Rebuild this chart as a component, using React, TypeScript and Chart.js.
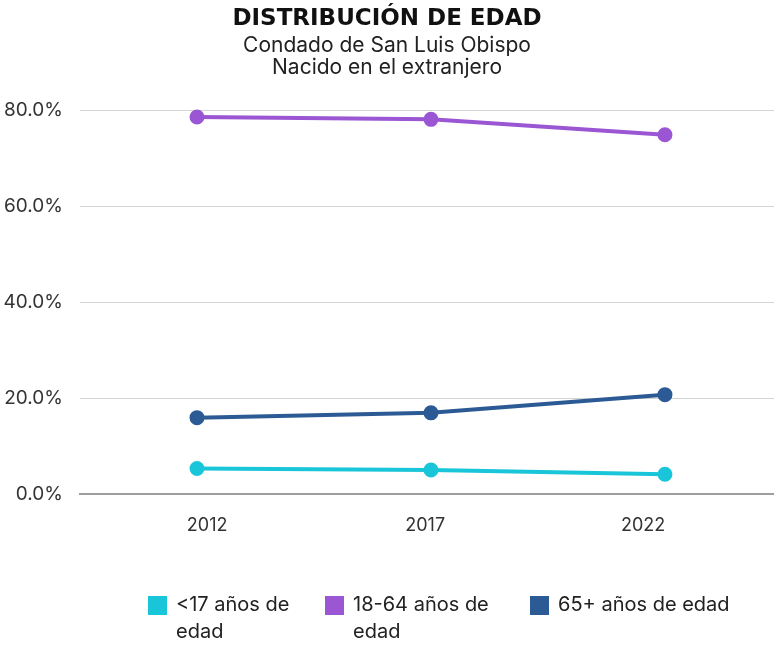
import React, { useEffect, useRef } from "react";
import { Chart, registerables } from "chart.js";

Chart.register(...registerables);

const years = ["2012", "2017", "2022"];
const under17 = [5.4, 5.1, 4.2];
const age18to64 = [78.7, 78.2, 75.0];
const over65 = [16.0, 17.0, 20.8];

const seriesNames = ["<17 años de edad", "18-64 años de edad", "65+ años de edad"];
const seriesColors = ["#19c5d9", "#9b56d3", "#2c5a95"];

const titleText = "DISTRIBUCIÓN DE EDAD";
const subtitleLines = ["Condado de San Luis Obispo", "Nacido en el extranjero"];

const FONT = "Inter, 'DejaVu Sans', sans-serif";

const zeroSidePadding = (axis: any) => {
  axis.paddingLeft = 0;
  axis.paddingRight = 0;
};

export default function App() {
  const ref = useRef<HTMLCanvasElement | null>(null);

  useEffect(() => {
    if (!ref.current) return;
    const series = [under17, age18to64, over65];
    const chart = new Chart(ref.current, {
      type: "line",
      data: {
        datasets: series.map((vals, k) => ({
          label: seriesNames[k],
          data: vals.map((v, i) => ({ x: i, y: v })),
          borderColor: seriesColors[k],
          backgroundColor: seriesColors[k],
          pointBackgroundColor: seriesColors[k],
          pointBorderColor: seriesColors[k],
          borderWidth: 4,
          pointRadius: 5.5,
          tension: 0,
          clip: false,
          xAxisID: "x",
          yAxisID: "y",
        })),
      },
      options: {
        animation: false,
        responsive: false,
        maintainAspectRatio: false,
        layout: { autoPadding: false, padding: { left: 0, right: 0, top: 5, bottom: 90 } },
        plugins: {
          legend: { display: false },
          tooltip: { enabled: false },
          title: {
            display: true,
            text: titleText,
            color: "#111",
            font: { family: "'DejaVu Sans', sans-serif", size: 23, weight: "bold" },
            padding: { top: 0, bottom: 2 },
          },
          subtitle: {
            display: true,
            text: subtitleLines,
            color: "#222",
            font: { family: FONT, size: 21, weight: "normal", lineHeight: 1.05 },
            padding: { top: 0, bottom: 32 },
          },
        },
        scales: {
          x: {
            type: "linear",
            display: false,
            min: -0.5,
            max: 2.466,
            afterFit: zeroSidePadding,
          },
          xl: {
            type: "linear",
            position: "bottom",
            min: -0.583,
            max: 2.6,
            afterBuildTicks: (axis: any) => {
              axis.ticks = years.map((_, i) => ({ value: i }));
            },
            afterFit: zeroSidePadding,
            grid: { display: false, drawTicks: false },
            border: { display: true, color: "#9e9e9e", width: 2 },
            ticks: {
              color: "#333",
              font: { family: FONT, size: 18 },
              padding: 20,
              callback: (v: any) => years[v as number] ?? "",
            },
          },
          y: {
            type: "linear",
            min: 0,
            max: 80,
            afterFit: (axis: any) => {
              axis.width = 80;
              axis.paddingLeft = 0;
              axis.paddingRight = 0;
            },
            grid: { color: "#d4d4d4", lineWidth: 1, drawTicks: false },
            border: { display: false },
            ticks: {
              stepSize: 20,
              color: "#333",
              padding: 17,
              font: { family: FONT, size: 19 },
              callback: (v: any) => Number(v).toFixed(1) + "%",
            },
          },
        },
      },
    } as any);
    return () => chart.destroy();
  }, []);

  const legendItems = [
    { left: 148, width: 128 },
    { left: 325, width: 155 },
    { left: 530, width: 240 },
  ];

  return (
    <div style={{ position: "absolute", left: 0, top: 0, width: 774, height: 646, background: "#fff" }}>
      <canvas ref={ref} width={774} height={646} style={{ display: "block" }} />
      {seriesNames.map((name, k) => (
        <div
          key={name}
          style={{
            position: "absolute",
            left: legendItems[k].left,
            top: 591,
            display: "flex",
            alignItems: "flex-start",
            fontFamily: FONT,
            fontSize: 20,
            lineHeight: "27px",
            color: "#222",
          }}
        >
          <div style={{ width: 19, height: 19, background: seriesColors[k], marginTop: 5, marginRight: 9, flex: "none" }} />
          <div style={{ width: legendItems[k].width }}>{name}</div>
        </div>
      ))}
    </div>
  );
}
